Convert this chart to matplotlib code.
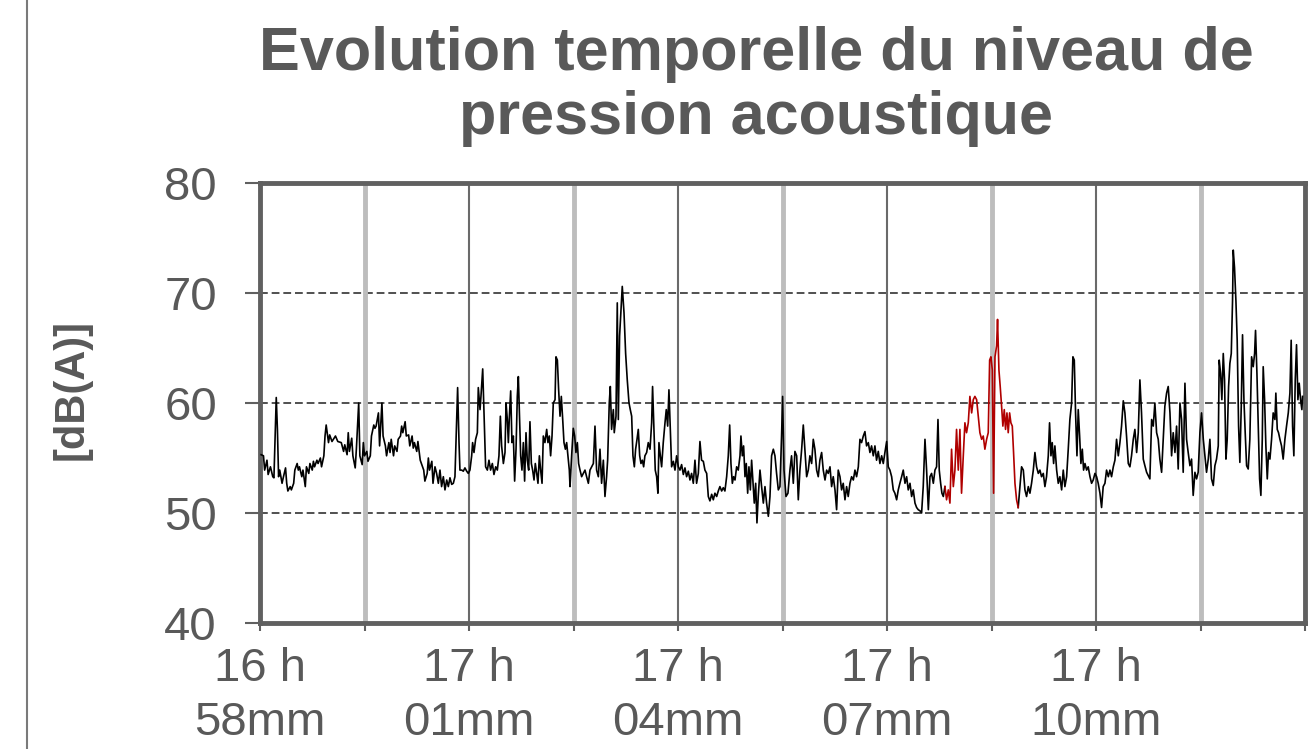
import matplotlib
matplotlib.use("Agg")
import matplotlib.pyplot as plt
from matplotlib.lines import Line2D
import numpy as np

plt.rcParams['font.family'] = ['Liberation Sans', 'DejaVu Sans']

# ---------------- chart text / axis data ----------------
title = "Evolution temporelle du niveau de\npression acoustique"
y_label = "[dB(A)]"
y_ticks = [40, 50, 60, 70, 80]
y_grid = [50, 60, 70]
x_major = [0, 180, 360, 540, 720]          # seconds after 16h58
x_labels = ["16 h\n58mm", "17 h\n01mm", "17 h\n04mm", "17 h\n07mm", "17 h\n10mm"]
x_minor = [90, 270, 450, 630, 810, 900]
red_start_s = 589.9   # highlighted event
red_end_s = 653.0

time_s = [
    1, 3, 4, 6, 7, 9, 11, 12, 14, 15, 16, 17, 19, 20, 22, 23, 24, 26, 27, 29,
    30, 32, 33, 34, 36, 37, 39, 40, 42, 43, 45, 46, 47, 49, 50, 52, 53, 55, 56, 57,
    59, 60, 62, 65, 67, 70, 72, 73, 75, 76, 77, 79, 80, 82, 83, 85, 86, 88, 89, 90,
    92, 93, 95, 96, 98, 99, 100, 102, 103, 105, 106, 108, 109, 111, 112, 113, 115, 116, 118, 119,
    121, 122, 123, 125, 126, 128, 129, 131, 132, 133, 135, 136, 138, 139, 141, 142, 144, 145, 146, 148,
    149,
    150.7, 152.1, 153.6, 155.0, 156.4, 157.9, 159.3, 160.8, 162.2, 163.6, 165.1, 166.5, 167.9, 169.4, 170.2,
    171.4, 172.2, 173.7, 175.1, 176.5, 178.0, 179.4, 180.8, 182.3, 183.1, 184.3, 185.7, 187.2, 188.0, 189.5,
    190.3, 191.8, 192.9, 194.3, 195.8, 197.2, 198.6, 200.1, 201.5, 203.0, 204.4, 205.8, 207.0, 208.1, 209.6,
    211.0, 211.9, 213.0, 213.9, 214.7, 215.9, 217.0, 218.2, 219.3, 220.5, 221.6, 222.5, 223.3, 224.5, 225.6,
    226.8, 227.9, 229.1, 230.2, 231.4, 232.5, 233.7, 234.8, 236.0, 237.1, 238.3, 239.4, 240.6, 241.7, 242.9,
    244.0, 245.4, 246.9, 248.0, 249.2, 250.3, 251.5, 252.6, 254.1, 254.9, 256.1, 257.2, 258.4, 259.5, 260.7,
    261.8, 263.0, 264.1, 265.2, 266.4, 267.0, 268.4, 269.8, 271.0, 272.1, 273.3, 274.4, 275.6, 277.0, 278.5,
    279.9, 281.3, 282.8, 284.2, 285.6, 287.1, 288.5, 289.9, 291.4, 292.8, 294.2, 295.7, 297.1, 298.5,
    299.4, 300.8, 301.7, 302.8, 304.3, 305.1, 306.6, 307.7, 308.6, 309.7, 310.9, 312.0, 313.5, 314.9, 316.3,
    317.8, 318.9, 320.1, 321.2, 322.4, 323.5, 324.7, 325.8, 327.0, 328.1, 329.3, 330.4, 331.5, 333.0, 334.4,
    335.9, 337.3, 338.1, 339.3, 340.4, 341.6, 342.7, 343.6, 344.8, 345.9, 347.3, 348.8, 349.9, 351.1, 352.2,
    353.4, 354.5, 356.0, 357.4, 358.8, 360.3, 361.7, 363.1, 364.6, 366.0, 367.4, 368.9, 370.3, 371.7, 373.2,
    374.6, 376.0, 377.5, 378.9, 380.3, 381.8, 383.2, 384.7, 386.1, 387.5, 389.0, 390.4, 391.8, 393.3, 394.7,
    396.1, 397.6, 399.0, 400.4, 401.9, 403.3, 404.5, 405.6, 406.8, 407.9, 409.1, 410.5, 411.9, 413.4, 414.2,
    415.4, 416.5, 417.7, 418.8, 420.0, 421.1, 422.3, 423.4, 424.6, 425.7, 426.9, 428.0, 429.1, 430.6, 432.0,
    433.5, 434.9, 436.3, 437.8, 439.2, 440.6, 442.1, 443.5, 444.9, 446.4, 447.8, 449.2, 450.1, 451.3,
    453.0, 454.7, 456.4, 457.8, 459.3, 460.7, 462.2, 463.6, 465.0, 466.5, 467.9, 469.3, 470.8, 472.2, 473.6,
    475.1, 476.5, 477.9, 479.4, 480.8, 482.2, 483.7, 485.1, 486.6, 488.0, 489.4, 490.9, 492.3, 493.7, 495.2,
    496.6, 498.0, 499.5, 500.9, 502.3, 503.8, 505.2, 506.6, 508.1, 509.5, 511.0, 512.4, 513.8, 515.3, 516.7,
    518.1, 519.6, 521.0, 522.4, 523.9, 525.3, 526.7, 528.2, 529.6, 531.0, 532.5, 533.9, 535.4, 536.8, 538.2,
    539.7, 541.1, 542.5, 544.0, 545.4, 546.8, 548.3, 549.7, 551.1, 552.6, 554.0, 555.5, 556.9, 558.3, 559.8,
    561.2, 562.6, 564.1, 565.5, 566.9, 568.4, 569.8, 571.2, 572.7, 574.1, 575.6, 577.0, 578.4, 579.9, 581.3,
    582.7, 583.9, 585.0, 586.2, 587.3, 588.5, 589.9,
    591.3, 592.8, 594.2, 595.6, 597.1, 598.5, 599.9, 601.4, 602.8, 604.2, 605.7, 607.1, 608.5, 610.0, 611.4,
    612.9, 614.3, 615.7, 617.2, 618.6, 620.0, 621.5, 622.9, 624.3, 625.8, 627.2, 628.4, 629.5, 630.7, 631.8,
    633.0, 634.4, 635.2, 636.4, 637.5, 638.7, 639.8, 641.0, 642.1, 643.3, 644.4, 645.6, 646.7, 647.9, 649.0,
    650.2, 651.6, 653.0,
    654.5, 655.9, 657.4, 658.8, 660.2, 661.7, 663.1, 664.5, 666.0, 667.4, 668.8, 670.3, 671.7, 673.1, 674.6,
    676.0, 677.4, 678.9, 680.0, 681.2, 682.3, 683.5, 684.6, 686.1, 687.5, 688.9, 690.4, 691.8, 693.2, 694.7,
    696.1, 697.5, 699.0, 700.1, 701.3, 702.4, 703.6, 704.7, 705.9, 707.0, 708.2, 709.3, 710.5, 711.9, 713.3,
    714.8, 716.2, 717.6, 719.1, 720.5, 721.9, 723.4, 724.8, 726.2, 727.7, 729.1, 730.6, 732.0, 733.4, 734.9,
    736.3, 737.7, 739.2, 740.6, 742.0, 743.5, 744.9, 746.3, 747.8, 749.2, 750.6, 752.1, 753.5,
    755.0, 756.4, 757.8, 759.2, 760.7, 762.1, 763.6, 765.0, 766.4, 767.9, 769.3, 770.7, 772.2, 773.6, 775.0,
    776.5, 777.9, 779.3, 780.8, 782.2, 783.7, 785.1, 786.5, 788.0, 789.4, 790.8, 792.3, 793.7, 795.1, 796.6,
    798.0, 799.4, 800.9, 802.3, 803.7, 805.2, 806.6, 808.0, 809.5, 810.9, 812.4, 813.8, 815.2, 816.7, 818.1,
    819.5, 821.0, 822.4, 823.8, 825.3, 826.1, 827.3, 828.4, 829.6, 830.7, 831.9, 833.0, 834.2, 835.3, 836.5,
    837.6, 838.2, 839.3, 840.5, 841.6, 842.8, 843.9, 845.1, 846.2, 847.4, 848.5, 849.7, 851.1, 852.5, 854.0,
    855.4, 856.6, 857.4, 858.6, 859.7, 860.9, 862.0, 863.2, 864.0, 865.2, 866.3, 867.5, 868.6, 869.8, 871.2,
    872.6, 874.1, 874.9, 876.1, 877.2, 878.4, 879.8, 881.2, 882.7, 884.1, 885.6, 887.0, 888.1, 889.3, 890.4,
    891.6, 892.7, 893.9, 895.0, 896.2, 897.3, 897.9,
]

level_db = [
    55.3, 55.2, 53.9, 54.8, 53.5, 54.2, 53.3, 53.2, 60.5, 57.6, 53.3, 53.9, 52.7, 53.2, 54.1, 52.7, 52.0, 52.4, 52.1, 52.7,
    53.9, 54.5, 53.9, 54.2, 53.3, 53.9, 52.4, 54.2, 53.6, 54.5, 53.9, 54.7, 54.2, 54.8, 54.5, 55.0, 54.2, 55.2, 57.0, 58.0,
    56.4, 57.1, 56.5, 57.0, 56.5, 56.4, 55.6, 56.2, 55.3, 57.3, 55.6, 56.8, 55.2, 54.1, 55.8, 60.0, 55.2, 54.4, 56.4, 55.2,
    55.6, 54.7, 55.2, 57.0, 58.0, 57.7, 57.9, 59.1, 56.1, 60.0, 57.0, 56.1, 55.2, 56.4, 55.5, 56.7, 55.2, 56.1, 55.6, 56.7,
    57.0, 57.9, 57.3, 58.3, 57.0, 57.1, 56.1, 57.0, 55.9, 56.4, 55.6, 56.5, 54.8, 54.5, 53.9, 52.9, 53.6, 55.0, 53.9, 54.7,
    52.7,
    54.2, 53.6, 52.7, 53.9, 52.4, 53.3, 52.1, 53.0, 52.4, 53.2, 52.6, 52.7, 53.3, 58.5, 61.4,
    56.4, 53.9, 53.9, 53.8, 54.1, 53.8, 53.6, 53.9, 55.2, 56.4, 55.5, 56.7, 57.3, 61.4, 59.4,
    60.6, 63.1, 59.1, 54.2, 53.9, 54.8, 53.9, 54.5, 53.5, 54.2, 53.9, 55.2, 58.8, 56.1, 54.5,
    55.5, 60.0, 58.5, 56.4, 58.6, 61.1, 56.4, 57.0, 52.9, 55.8, 60.6, 62.4, 59.4, 55.2, 53.9,
    56.4, 52.9, 57.3, 54.8, 53.9, 58.3, 54.5, 53.9, 53.0, 54.5, 53.6, 52.7, 55.2, 53.9, 52.7,
    57.0, 56.4, 57.6, 56.4, 57.0, 55.2, 57.0, 60.0, 60.3, 64.2, 63.9, 61.2, 58.8, 60.6, 58.5,
    56.4, 55.8, 56.4, 55.2, 53.9, 52.4, 55.2, 57.7, 57.0, 55.5, 56.4, 54.5, 53.9, 53.3, 53.6,
    53.9, 53.3, 52.7, 53.9, 54.2, 54.5, 57.9, 53.9, 53.3, 55.8, 52.7, 54.8, 51.5, 53.3,
    54.8, 60.0, 61.5, 57.6, 59.4, 57.3, 58.8, 69.1, 58.5, 66.1, 68.5, 70.6, 68.2, 64.5, 62.1,
    60.0, 59.4, 58.8, 55.2, 54.2, 55.8, 56.7, 57.6, 55.2, 54.5, 54.8, 54.2, 55.2, 55.5, 56.4,
    55.8, 58.2, 61.5, 57.6, 53.9, 53.3, 51.8, 56.4, 55.2, 54.2, 56.4, 58.2, 59.4, 57.9, 61.2,
    57.6, 54.2, 54.7, 53.9, 55.2, 54.2, 53.9, 54.4, 53.5, 54.1, 53.3, 53.8, 53.0, 53.6, 52.7,
    54.8, 52.7, 53.6, 56.5, 54.8, 54.7, 53.9, 53.6, 51.5, 51.1, 51.7, 51.2, 51.8, 51.5, 52.0,
    52.4, 52.0, 52.3, 52.0, 53.3, 55.2, 58.0, 54.5, 52.7, 53.3, 53.0, 54.2, 53.9, 55.2, 57.0,
    55.2, 56.1, 53.3, 54.5, 51.8, 54.2, 52.1, 54.8, 52.7, 50.9, 52.7, 49.1, 51.5, 53.9, 52.4,
    50.9, 52.4, 50.9, 49.7, 51.5, 55.2, 55.8, 55.2, 53.6, 52.1, 52.4, 57.0, 60.6, 53.9,
    51.5, 51.8, 53.9, 55.2, 52.7, 55.6, 55.2, 51.2, 53.9, 55.8, 58.0, 55.8, 53.3, 53.9, 55.2,
    54.5, 56.7, 55.8, 53.9, 53.3, 54.8, 55.5, 53.9, 53.0, 53.9, 53.6, 54.2, 52.4, 53.3, 52.1,
    50.3, 53.9, 53.3, 52.1, 52.7, 51.2, 52.4, 51.5, 52.7, 53.3, 53.0, 53.9, 53.3, 54.2, 56.7,
    56.4, 57.0, 57.4, 56.1, 56.4, 55.5, 56.1, 55.2, 56.1, 54.8, 55.6, 54.5, 55.2, 54.5, 55.5,
    56.5, 54.2, 53.9, 53.3, 52.1, 51.8, 51.2, 52.1, 52.7, 53.3, 53.9, 52.7, 53.3, 52.1, 52.7,
    51.5, 52.1, 50.9, 50.5, 50.3, 50.2, 50.0, 52.4, 56.7, 53.9, 50.3, 53.3, 53.6, 52.7, 53.9,
    54.2, 58.5, 53.9, 52.7, 51.8, 51.5, 52.4,
    51.2, 52.1, 50.9, 55.8, 52.4, 53.9, 57.6, 53.9, 57.6, 51.8, 55.2, 58.2, 57.3, 58.2, 60.6,
    59.1, 60.3, 60.6, 60.3, 58.8, 57.3, 56.7, 57.0, 55.8, 56.7, 57.3, 63.9, 64.2, 63.0, 51.8,
    64.2, 65.2, 67.6, 63.0, 61.5, 59.7, 57.9, 59.4, 57.6, 59.1, 57.3, 59.1, 58.2, 57.9, 55.5,
    52.7, 51.2, 50.5,
    52.4, 54.2, 53.9, 52.1, 51.5, 52.4, 51.8, 52.7, 53.9, 55.5, 54.2, 53.6, 53.9, 53.3, 53.6,
    52.4, 53.3, 55.2, 58.2, 55.2, 56.4, 54.5, 56.1, 53.9, 52.7, 53.3, 52.1, 53.9, 52.4, 53.3,
    55.8, 58.5, 60.0, 64.2, 63.9, 59.1, 55.2, 59.4, 57.0, 54.5, 55.8, 53.9, 54.5, 53.9, 54.2,
    53.3, 52.7, 53.0, 53.6, 53.3, 52.7, 51.8, 50.5, 52.4, 52.7, 53.9, 53.3, 53.9, 53.3, 54.2,
    54.8, 56.7, 55.2, 56.4, 57.9, 60.2, 59.1, 57.0, 54.5, 54.2, 55.2, 56.7, 57.6,
    55.5, 57.3, 62.1, 59.1, 54.9, 54.3, 53.7, 53.4, 53.1, 58.5, 57.9, 60.0, 57.3, 56.7, 54.9,
    53.7, 56.7, 59.7, 60.9, 61.5, 59.1, 55.2, 57.3, 55.5, 57.9, 54.0, 60.0, 58.5, 53.7, 61.8,
    56.7, 55.5, 54.3, 54.9, 51.6, 53.7, 53.1, 53.7, 57.3, 59.1, 56.7, 55.2, 53.7, 54.9, 56.7,
    53.1, 52.5, 54.3, 54.9, 56.1, 63.9, 62.7, 60.3, 64.5, 62.1, 54.9, 56.7, 61.5, 63.6, 64.5,
    69.3, 73.9, 72.3, 69.3, 65.7, 57.9, 54.6, 59.7, 66.2, 60.3, 57.3, 54.3, 54.0, 56.7, 64.2,
    63.3, 64.5, 66.6, 62.7, 58.2, 53.1, 51.6, 56.7, 63.3, 60.3, 56.1, 53.1, 55.5, 54.9, 56.7,
    59.1, 58.5, 60.9, 57.6, 57.3, 56.7, 56.1, 54.9, 56.7, 57.9, 59.1, 60.9, 65.7, 57.9, 55.2,
    62.1, 65.3, 60.3, 61.8, 60.3, 59.4, 60.6,
]

t = np.array(time_s, dtype=float)
lv = np.array(level_db, dtype=float)
n = min(len(t), len(lv))
t, lv = t[:n], lv[:n]

TXT = '#595959'
AXC = '#606060'

fig = plt.figure(figsize=(13.1, 7.49), dpi=100)
ax = fig.add_axes([260 / 1310, 1 - 623 / 749, 1045 / 1310, 440 / 749])

# grid lines
for v in y_grid:
    ax.axhline(v, color='#505050', lw=1.4, dashes=(4, 2), zorder=1)
for v in x_minor[:-1]:
    ax.axvline(v, color='#bdbdbd', lw=3.5, zorder=1)
for v in x_major[1:]:
    ax.axvline(v, color='#6a6a6a', lw=1.5, zorder=1)

# trace: black, red event, black
before = t <= red_start_s
during = (t >= red_start_s) & (t <= red_end_s)
after = t >= red_end_s
ax.plot(t[before], lv[before], color='black', lw=1.2, zorder=3)
ax.plot(t[after], lv[after], color='black', lw=1.2, zorder=3)
ax.plot(t[during], lv[during], color='#b00000', lw=1.2, zorder=4)

ax.set_xlim(0, 900)
ax.set_ylim(40, 80)
ax.set_yticks(y_ticks)
ax.set_xticks(x_major)
ax.set_xticklabels(x_labels, linespacing=1.3)
ax.set_xticks(x_minor, minor=True)

for s in ax.spines.values():
    s.set_color(AXC)
    s.set_linewidth(3.5)

ax.tick_params(axis='y', direction='out', length=11, width=1.5, color=AXC,
               labelcolor=TXT, labelsize=34, pad=20)
ax.tick_params(axis='x', which='both', direction='out', length=6, width=1.5, color=AXC)
ax.tick_params(axis='x', which='major', labelcolor=TXT, labelsize=34, pad=11)

fig.text(756 / 1310, 1 - 26 / 749, title, ha='center', va='top', fontsize=44,
         fontweight='bold', color=TXT, linespacing=1.17)
fig.text(72 / 1310, 1 - 390 / 749, y_label, ha='center', va='center', rotation=90,
         fontsize=30, fontweight='bold', color=TXT)

fig.add_artist(Line2D([27 / 1310, 27 / 1310], [0, 1], color='#7a7a7a', lw=1.5))

fig.savefig('out.png', dpi=100)
